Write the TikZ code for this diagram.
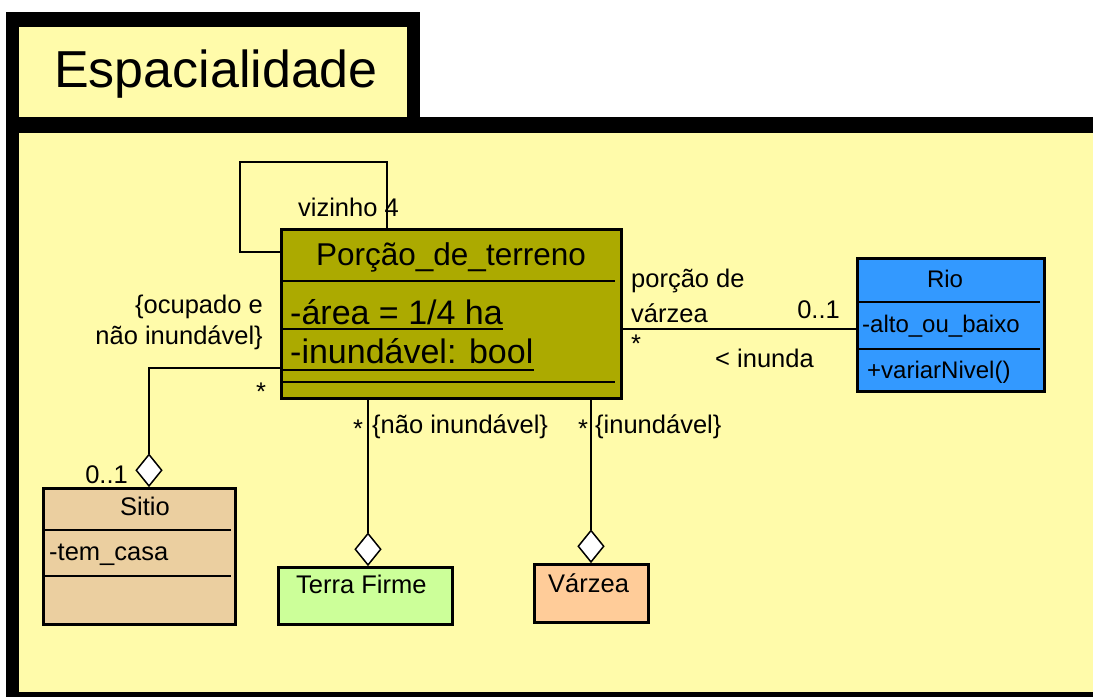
\documentclass[tikz,border=0pt]{standalone}
\usepackage{fontspec}
\setmainfont{Liberation Sans}
\usetikzlibrary{shapes.geometric,calc}
\definecolor{bgyellow}{RGB}{255,251,170}
\definecolor{olivebox}{RGB}{172,170,0}
\definecolor{riobox}{RGB}{51,153,255}
\definecolor{sitiobox}{RGB}{235,207,160}
\definecolor{terrabox}{RGB}{204,255,153}
\definecolor{varzeabox}{RGB}{255,204,153}
\tikzset{
 cls/.style={draw=black, line width=2.5pt, inner sep=0pt, anchor=north west},
 sepline/.style={line width=1.5pt},
 conn/.style={line width=2pt},
 aggr/.style={diamond, draw=black, fill=white, line width=1.5pt, inner sep=0pt, minimum width=26pt, minimum height=32pt, anchor=south},
 lbl/.style={inner sep=0pt, font=\fontsize{25.5}{31}\selectfont},
 riolbl/.style={inner sep=0pt, font=\fontsize{24}{30}\selectfont},
 attr/.style={inner sep=0pt, font=\fontsize{34}{38}\selectfont, anchor=base west},
}
\begin{document}
\begin{tikzpicture}[x=1pt,y=-1pt]
\useasboundingbox (0,0) rectangle (1093,697);
% package frame
\fill[black] (6,12) rectangle (420,133);
\fill[black] (6,117) rectangle (1093,697);
\fill[bgyellow] (19,27) rectangle (407,117);
\fill[bgyellow] (19,133) rectangle (1093,692);
\node[inner sep=0pt, font=\fontsize{52}{60}\selectfont, anchor=base] (pkg) at (216,87) {Espacialidade};

% class boxes
\node[cls, fill=olivebox, minimum width=340, minimum height=169] (pt) at (280,228) {};
\node[cls, fill=riobox, minimum width=187, minimum height=133] (rio) at (856,257) {};
\node[cls, fill=sitiobox, minimum width=192, minimum height=136] (sitio) at (42,487) {};
\node[cls, fill=terrabox, minimum width=174, minimum height=57] (terra) at (277,566) {};
\node[cls, fill=varzeabox, minimum width=114, minimum height=58] (varzea) at (533,563) {};

% compartments
\draw[sepline] (283,281) -- (615,281);
\draw[sepline] (283,382) -- (615,382);
\draw[sepline] (858,302) -- (1040,302);
\draw[sepline] (858,349) -- (1040,349);
\draw[sepline] (44,530) -- (231,530);
\draw[sepline] (44,576) -- (231,576);

% class texts
\node[inner sep=0pt, font=\fontsize{31.5}{36}\selectfont, anchor=base] (ptname) at (451,265) {Porção\_de\_terreno};
\node[attr] (a1) at (290,324) {-área = 1/4 ha};
\node[attr] (a2) at (290,363) {-inundável: bool};
\draw[line width=1.5pt] ($(a1.base west)+(-7,5)$) -- ($(a1.base east)+(0,5)$);
\draw[line width=1.5pt] ($(a2.base west)+(-7,7)$) -- ($(a2.base east)+(0,7)$);

\node[riolbl, anchor=base] (rioname) at (945,287) {Rio};
\node[riolbl, anchor=base west] (r1) at (862,332) {-alto\_ou\_baixo};
\node[riolbl, anchor=base west] (r2) at (867,378) {+variarNivel()};

\node[lbl, anchor=base] (sitioname) at (145,515) {Sitio};
\node[lbl, anchor=base west] (s1) at (49,560) {-tem\_casa};

\node[lbl, anchor=base west] (terraname) at (296,593) {Terra Firme};
\node[lbl, anchor=base west] (varzeaname) at (548,592) {Várzea};

% aggregation diamonds
\coordinate (x1) at (149,0);
\coordinate (x2) at (368,0);
\coordinate (x3) at (591,0);
\node[aggr] (d1) at (sitio.north -| x1) {};
\node[aggr] (d2) at (terra.north -| x2) {};
\node[aggr] (d3) at (varzea.north -| x3) {};

% connectors
\coordinate (la) at (240,162);
\coordinate (lb) at (387,162);
\coordinate (yl) at (0,252);
\draw[conn] (pt.west |- yl) -| (la) -- (lb) -- (pt.north -| lb);
\coordinate (ya) at (0,329);
\draw[conn] (pt.east |- ya) -- (rio.west |- ya);
\coordinate (yb) at (0,368);
\draw[conn] (pt.west |- yb) -| (d1.north);
\draw[conn] (pt.south -| d2) -- (d2.north);
\draw[conn] (pt.south -| d3) -- (d3.north);

% association labels
\node[lbl, anchor=base east] (viz) at (399,216) {vizinho 4};
\node[lbl, anchor=base west] (pv1) at (631,287) {porção de};
\node[lbl, anchor=base west] (pv2) at (631,322) {várzea};
\node[lbl, anchor=base] (st1) at (636,352) {*};
\node[lbl, anchor=base east] (m1) at (840,318) {0..1};
\node[lbl, anchor=base west] (inunda) at (715,367) {< inunda};
\node[lbl, anchor=base east] (oc1) at (263,313) {\{ocupado e};
\node[lbl, anchor=base east] (oc2) at (263,344) {não inundável\}};
\node[lbl, anchor=base] (st2) at (261,400) {*};
\node[lbl, anchor=base east] (m2) at (128,483) {0..1};
\node[lbl, anchor=base] (st3) at (358,437) {*};
\node[lbl, anchor=base west] (c1) at (372,433) {\{não inundável\}};
\node[lbl, anchor=base] (st4) at (583,437) {*};
\node[lbl, anchor=base west] (c2) at (595,433) {\{inundável\}};
\end{tikzpicture}
\end{document}
